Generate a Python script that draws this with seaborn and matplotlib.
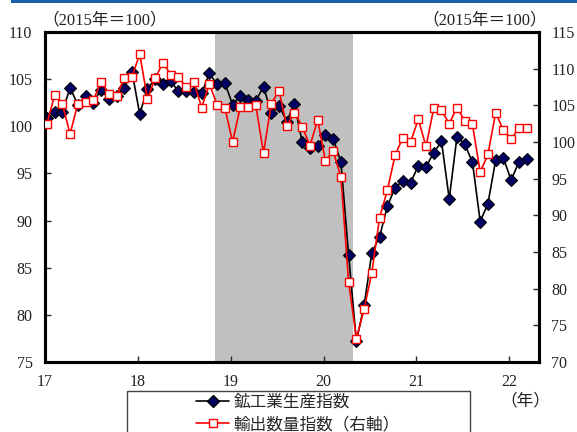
import numpy as np
import pandas as pd
import matplotlib
matplotlib.use("Agg")
import matplotlib.pyplot as plt
import seaborn as sns
from matplotlib.patches import Rectangle
from matplotlib.lines import Line2D

# monthly data, Jan 2017 - Mar 2022
production = [100.9, 101.5, 101.5, 104.1, 102.3, 103.2, 102.5, 103.9, 102.9, 103.2, 104.1, 105.8,
              101.3, 104.0, 105.0, 104.5, 104.8, 103.7, 103.7, 103.6, 103.5, 105.6, 104.5, 104.6,
              102.3, 103.2, 102.8, 102.7, 104.2, 101.4, 102.2, 100.5, 102.4, 98.3, 97.7, 97.9,
              99.1, 98.7, 96.2, 86.3, 77.2, 81.0, 86.6, 88.3, 91.5, 93.5, 94.2, 94.0,
              95.8, 95.7, 97.2, 98.4, 92.3, 98.9, 98.1, 96.2, 89.9, 91.8, 96.4, 96.6,
              94.3, 96.2, 96.5]
exports = [102.4, 106.4, 105.2, 101.1, 105.2, 105.4, 105.7, 108.2, 106.6, 106.3, 108.7, 108.9,
           112.0, 105.9, 108.7, 110.8, 109.2, 108.8, 107.5, 108.2, 104.7, 107.9, 105.1, 104.7,
           100.0, 104.8, 104.8, 105.0, 98.5, 105.2, 107.0, 102.2, 104.0, 102.1, 99.5, 103.0,
           97.4, 98.8, 95.2, 80.9, 73.2, 77.2, 82.2, 89.7, 93.4, 98.2, 100.6, 100.0,
           103.1, 99.4, 104.6, 104.3, 102.5, 104.7, 102.9, 102.4, 95.9, 98.3, 104.0, 101.6,
           100.4, 101.9, 101.9]
year_ticks = [17, 18, 19, 20, 21, 22]
recession = (18.83, 20.32)

labels = ["鉱工業生産指数", "輸出数量指数（右軸）"]

df = pd.DataFrame({
    "t": 17 + np.arange(len(production)) / 12 + 0.02,
    "production": production,
    "exports": exports,
})

sns.set_style("ticks")
fam = ["Liberation Serif", "Noto Sans CJK JP", "DejaVu Sans"]
plt.rcParams["font.family"] = fam

fig = plt.figure(figsize=(5.77, 4.32), dpi=100)
ax1 = fig.add_axes([45 / 577, 1 - 362 / 432, 494 / 577, 330 / 432])
ax2 = ax1.twinx()

# recession shading
ax1.axvspan(*recession, color="#c0c0c0", lw=0, zorder=0)

sns.lineplot(data=df, x="t", y="production", ax=ax1, color="black", lw=1.2,
             marker="D", markersize=6.5, markerfacecolor="#000060",
             markeredgecolor="black", markeredgewidth=0.8, zorder=3)
sns.lineplot(data=df, x="t", y="exports", ax=ax2, color="#ff0000", lw=1.2,
             marker="s", markersize=5.5, markerfacecolor="white",
             markeredgecolor="#ff0000", markeredgewidth=1.0, zorder=3)

ax1.set_xlim(17, 22.32)
ax1.set_ylim(75, 110)
ax2.set_ylim(70, 115)
ax1.set_xticks(year_ticks)
ax1.set_xticklabels([str(y) for y in year_ticks])
ax1.set_yticks(range(75, 111, 5))
ax2.set_yticks(range(70, 116, 5))
for a in (ax1, ax2):
    a.set_xlabel("")
    a.set_ylabel("")
    for s in a.spines.values():
        s.set_linewidth(2.2)
        s.set_color("black")
    a.tick_params(direction="in", length=4, width=1, labelsize=11.5,
                  labelcolor="#222222", pad=9)
ax1.tick_params(axis="x", pad=9)

# header texts
fig.text(42 / 577, 1 - 20 / 432, "（2015年＝100）", fontsize=12, va="center",
         ha="left", color="#222222")
fig.text(547 / 577, 1 - 20 / 432, "（2015年＝100）", fontsize=12, va="center",
         ha="right", color="#222222")
fig.text(550 / 577, 1 - 401 / 432, "（年）", fontsize=12, va="center",
         ha="right", color="#222222")

# blue bar on top
fig.patches.append(Rectangle((11 / 577, 1 - 3 / 432), 1, 3 / 432,
                             transform=fig.transFigure, color="#1a5fa8", lw=0))

# legend box
fig.patches.append(Rectangle((127 / 577, -0.05), (470 - 127) / 577, 0.05 + (432 - 391) / 432,
                             transform=fig.transFigure, facecolor="white",
                             edgecolor="#444444", lw=1))
handles = [
    Line2D([], [], color="black", lw=1.2, marker="D", markersize=6.5,
           markerfacecolor="#000060", markeredgecolor="black"),
    Line2D([], [], color="#ff0000", lw=1.2, marker="s", markersize=5.5,
           markerfacecolor="white", markeredgecolor="#ff0000"),
]
fig.legend(handles, labels, loc="upper left", bbox_to_anchor=(196 / 577, 1 - 395 / 432),
           frameon=False, fontsize=12, handlelength=2.0, handletextpad=0.25,
           labelspacing=0.36, borderpad=0, borderaxespad=0)

fig.savefig("out.png", dpi=100)
